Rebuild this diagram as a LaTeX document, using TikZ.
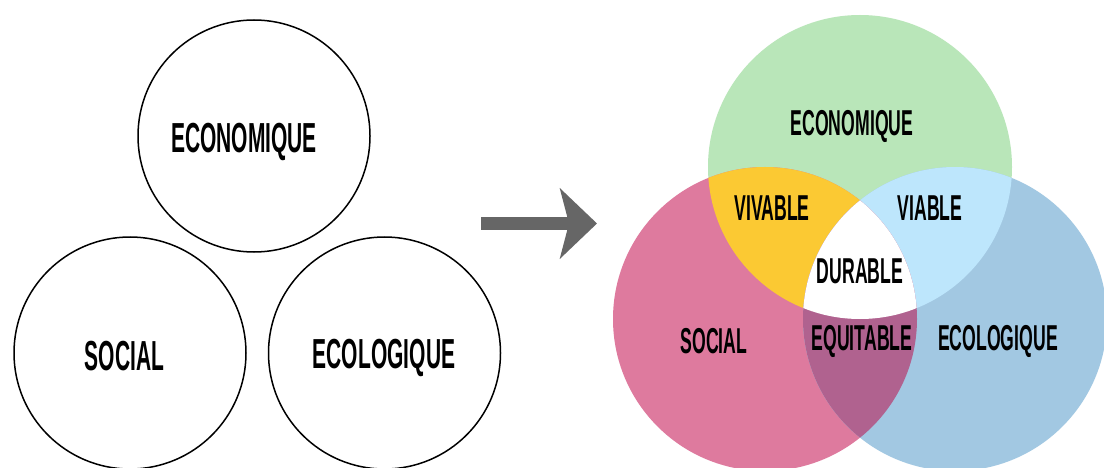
\documentclass[tikz,border=0pt]{standalone}
\usepackage{fontspec}
\setmainfont{Liberation Sans}
\usetikzlibrary{arrows.meta}

\definecolor{ecogreen}{RGB}{185,230,185}
\definecolor{socpink}{RGB}{222,122,158}
\definecolor{ecoblue}{RGB}{162,200,226}
\definecolor{vivyellow}{RGB}{251,201,51}
\definecolor{viablue}{RGB}{189,230,252}
\definecolor{equipurple}{RGB}{176,98,143}
\definecolor{arrowgray}{RGB}{102,102,102}

\tikzset{
  bigword/.style={font=\fontsize{42}{42}\selectfont\bfseries, xscale=0.5, inner sep=0pt},
  smallword/.style={font=\fontsize{36}{36}\selectfont\bfseries, xscale=0.49, inner sep=0pt},
  pillar/.style={draw=black, line width=1.5pt, fill=white}
}

\begin{document}
\begin{tikzpicture}[x=1pt, y=-1pt]
    \useasboundingbox[fill=white] (0,0) rectangle (1104,468);

 % Three separate circles
    \draw[pillar] (254,136) circle[radius=116pt]; % economique
    \draw[pillar] (130,353) circle[radius=116pt]; % social
    \draw[pillar] (384.5,353) circle[radius=116pt]; % ecologique
    \node[bigword] (econ) at (244,142) {ECONOMIQUE};
    \node[bigword] (soc) at (124.5,356) {SOCIAL};
    \node[bigword] (eco) at (384,358) {ECOLOGIQUE};

 % Arrow
    \coordinate (arrowtail) at (481,223.5);
    \coordinate (arrowtip) at (597,223.5);
    \draw[arrowgray, line width=13pt, -{Stealth[length=37pt, width=70pt, inset=9pt]}] (arrowtail) -- (arrowtip);

 % Venn circles
    \fill[ecogreen] (860,167) circle[radius=152pt]; % E
    \fill[socpink] (765,319) circle[radius=152pt]; % S
    \fill[ecoblue] (955,319) circle[radius=152pt]; % Ec

 % Shade the overlaps
    \begin{scope}
       \clip (860,167) circle[radius=152pt]; % restrict to E
       \fill[vivyellow] (765,319) circle[radius=152pt]; % E intersect S
       \fill[viablue] (955,319) circle[radius=152pt]; % E intersect Ec
    \end{scope}
    \begin{scope}
       \clip (765,319) circle[radius=152pt]; % restrict to S
       \fill[equipurple] (955,319) circle[radius=152pt]; % S intersect Ec
       \clip (955,319) circle[radius=152pt];
       \fill[white] (860,167) circle[radius=152pt]; % all three
    \end{scope}

 % Labels
    \node[smallword] (veconomique) at (852,126) {ECONOMIQUE};
    \node[smallword] (vivable) at (772,208) {VIVABLE};
    \node[smallword] (viable) at (930,208) {VIABLE};
    \node[smallword] (durable) at (860,271) {DURABLE};
    \node[smallword] (vsocial) at (714,341) {SOCIAL};
    \node[smallword] (equitable) at (862,341) {EQUITABLE};
    \node[smallword] (vecologique) at (998,341) {ECOLOGIQUE};

\end{tikzpicture}
\end{document}
